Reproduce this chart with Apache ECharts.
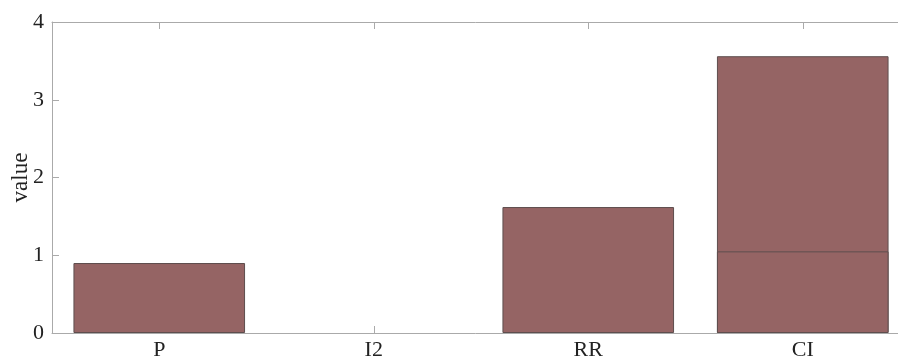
<!DOCTYPE html>
<html><head><meta charset="utf-8">
<script src="https://cdn.jsdelivr.net/npm/echarts@6/dist/echarts.min.js"></script>
<style>html,body{margin:0;padding:0;background:#fff}#c{width:898px;height:362px}</style>
</head><body><div id="c"></div>
<script>
var categories = ['P', 'I2', 'RR', 'CI'];
var mainValues = [0.90, 0, 1.62, 3.56];
var overlayValues = [null, null, null, 1.05];
var yTicks = [0, 1, 2, 3, 4];

var chart = echarts.init(document.getElementById('c'), null, {renderer: 'canvas'});
var font = 'Liberation Serif';
var axisGray = '#aaaaaa';
var barStyle = {color: '#956464', borderColor: '#5e4e4e', borderWidth: 1};
var mainData = mainValues.map(function (v) {
  return v === 0 ? {value: v, itemStyle: {borderWidth: 0}} : v;
});
chart.setOption({
  animation: false,
  grid: {left: 52, top: 22, width: 858, height: 311, containLabel: false, outerBoundsMode: 'none'},
  xAxis: [{
    type: 'category', data: categories, position: 'bottom',
    axisLine: {lineStyle: {color: axisGray, width: 1}},
    axisTick: {show: true, inside: true, alignWithLabel: true, length: 7, lineStyle: {color: axisGray, width: 1}},
    axisLabel: {color: '#222', fontFamily: font, fontSize: 22, margin: 6}
  }, {
    type: 'category', data: categories, position: 'top',
    axisLine: {lineStyle: {color: axisGray, width: 1}},
    axisTick: {show: true, inside: true, alignWithLabel: true, length: 7, lineStyle: {color: axisGray, width: 1}},
    axisLabel: {show: false}
  }],
  yAxis: {
    type: 'value', min: yTicks[0], max: yTicks[yTicks.length - 1], interval: 1,
    name: 'value', nameLocation: 'middle', nameGap: 20, nameMoveOverlap: false,
    nameTextStyle: {color: '#222', fontFamily: font, fontSize: 23},
    axisLine: {show: true, lineStyle: {color: axisGray, width: 1}},
    axisTick: {show: true, inside: true, length: 7, lineStyle: {color: axisGray, width: 1}},
    axisLabel: {color: '#222', fontFamily: font, fontSize: 22, margin: 8},
    splitLine: {show: false}
  },
  series: [{
    type: 'bar', data: mainData, barWidth: '80%', barGap: '-100%',
    itemStyle: barStyle
  }, {
    type: 'bar', data: overlayValues, barWidth: '80%', barGap: '-100%',
    itemStyle: barStyle
  }]
});
</script></body></html>
